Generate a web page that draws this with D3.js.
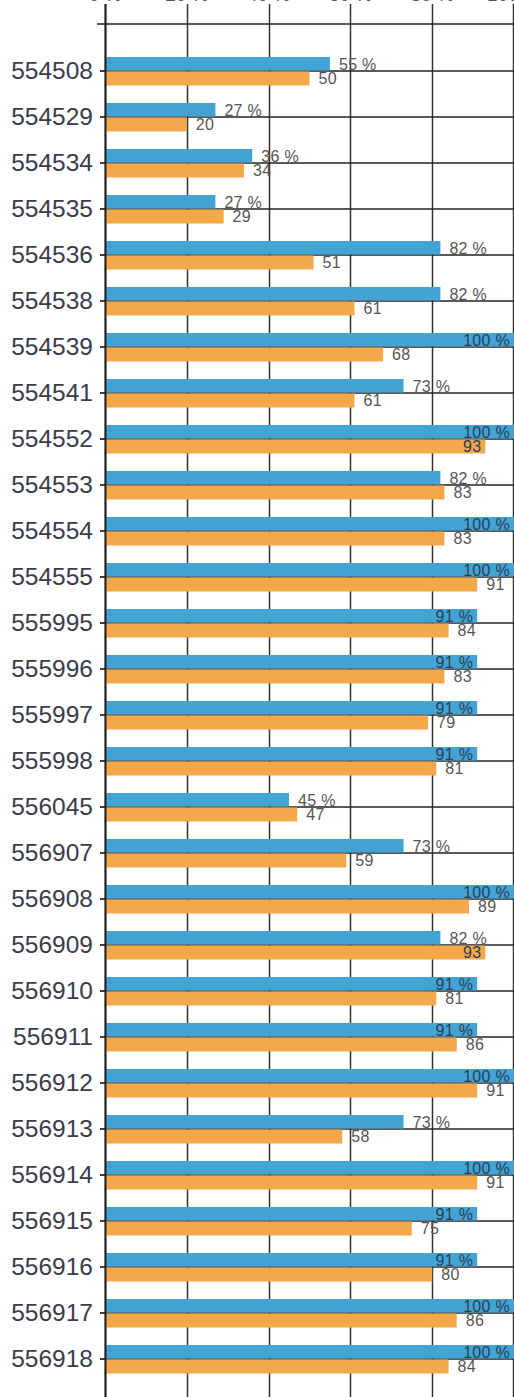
<!DOCTYPE html>
<html>
<head>
<meta charset="utf-8">
<script src="https://cdn.jsdelivr.net/npm/d3@7"></script>
<style>
  body { margin: 0; background: #fff; }
  svg { display: block; font-family: "Liberation Sans", Arial, sans-serif; }
</style>
</head>
<body>
<div id="chart"></div>
<script>
const categories = ["554508","554529","554534","554535","554536","554538","554539","554541",
  "554552","554553","554554","554555","555995","555996","555997","555998","556045",
  "556907","556908","556909","556910","556911","556912","556913","556914","556915",
  "556916","556917","556918"];
const percent = [55,27,36,27,82,82,100,73,100,82,100,100,91,91,91,91,45,73,100,82,91,91,100,73,100,91,91,100,100];
const score = [50,20,34,29,51,61,68,61,93,83,83,91,84,83,79,81,47,59,89,93,81,86,91,58,91,75,80,86,84];
const xTicks = [0, 20, 40, 60, 80, 100];

let width = 514, height = 1397;
let left = 105, right = 514, axisY = 24;

const blue = "#43a3d4", orange = "#f4a84a";

const svg = d3.select("#chart")
    .append("svg")
    .attr("width", width)
    .attr("height", height);

const x = d3.scaleLinear().domain([0, 100]).range([left, right]);
const y = d3.scaleBand().domain(categories).range([48, 48 + categories.length * 46]);
const barH = 14;

// vertical gridlines
svg.append("g")
    .selectAll("line")
    .data(xTicks)
    .enter()
    .append("line")
    .attr("x1", d => Math.min(Math.round(x(d)) + 0.5, width - 0.5))
    .attr("x2", d => Math.min(Math.round(x(d)) + 0.5, width - 0.5))
    .attr("y1", 4)
    .attr("y2", height)
    .attr("stroke", "#333")
    .attr("stroke-width", 1.5);

// top axis line
svg.append("line")
    .attr("x1", left - 8).attr("x2", width)
    .attr("y1", axisY).attr("y2", axisY)
    .attr("stroke", "#222").attr("stroke-width", 1.5);

// top tick labels, the page cuts them off (only their feet show)
svg.append("g")
    .selectAll("text")
    .data(xTicks)
    .enter()
    .append("text")
    .attr("x", d => x(d))
    .attr("y", 1)
    .attr("text-anchor", "middle")
    .attr("font-size", "19px")
    .attr("fill", "#555")
    .text(d => d + " %");

// horizontal line through each category, behind the bars
svg.append("g")
    .selectAll("line")
    .data(categories)
    .enter()
    .append("line")
    .attr("x1", left - 5)
    .attr("x2", width)
    .attr("y1", d => y(d) + y.bandwidth() / 2)
    .attr("y2", d => y(d) + y.bandwidth() / 2)
    .attr("stroke", "#222")
    .attr("stroke-width", 1.5);

const rows = categories.map((c, i) => ({cat: c, pct: percent[i], val: score[i]}));

const g = svg.selectAll(".row")
    .data(rows)
    .enter()
    .append("g")
    .attr("class", "row")
    .attr("transform", d => "translate(0," + (y(d.cat) + y.bandwidth() / 2) + ")");

g.append("rect")
    .attr("x", left)
    .attr("y", -barH)
    .attr("width", d => x(d.pct) - left)
    .attr("height", barH - 0.5)
    .attr("fill", blue);

g.append("rect")
    .attr("x", left)
    .attr("y", 0.5)
    .attr("width", d => x(d.val) - left)
    .attr("height", barH)
    .attr("fill", orange);

// value labels: outside the bar end when they fit, otherwise inside
function placeLabel(sel, getVal, fmt, baseline) {
    sel.append("text")
        .attr("y", baseline)
        .attr("font-size", "16px")
        .attr("letter-spacing", "0.3px")
        .attr("fill", "#555")
        .text(d => fmt(getVal(d)))
        .each(function(d) {
            const end = x(getVal(d));
            const w = this.getComputedTextLength();
            if (end + 9 + w > 512) {
                d3.select(this).attr("x", end - 4).attr("text-anchor", "end").attr("fill", "#2a3f55");
            } else {
                d3.select(this).attr("x", end + 9);
            }
        });
}

placeLabel(g, d => d.pct, v => v + " %", -1);
placeLabel(g, d => d.val, v => String(v), 13);

// category axis
const yAxis = d3.axisLeft(y).tickSize(5).tickSizeOuter(0).tickPadding(7);
const ya = svg.append("g")
    .attr("transform", "translate(" + left + ",0)")
    .call(yAxis);
ya.select(".domain").remove();
ya.selectAll("line").attr("stroke", "#333").attr("stroke-width", 1.5);
ya.selectAll("text")
    .attr("font-size", "24.5px")
    .attr("dy", "0.34em")
    .attr("font-family", "Liberation Sans, Arial, sans-serif")
    .attr("fill", "#3b3b4c");

// left axis line
svg.append("line")
    .attr("x1", left + 0.5).attr("x2", left + 0.5)
    .attr("y1", 4).attr("y2", height)
    .attr("stroke", "#222").attr("stroke-width", 2);
</script>
</body>
</html>
